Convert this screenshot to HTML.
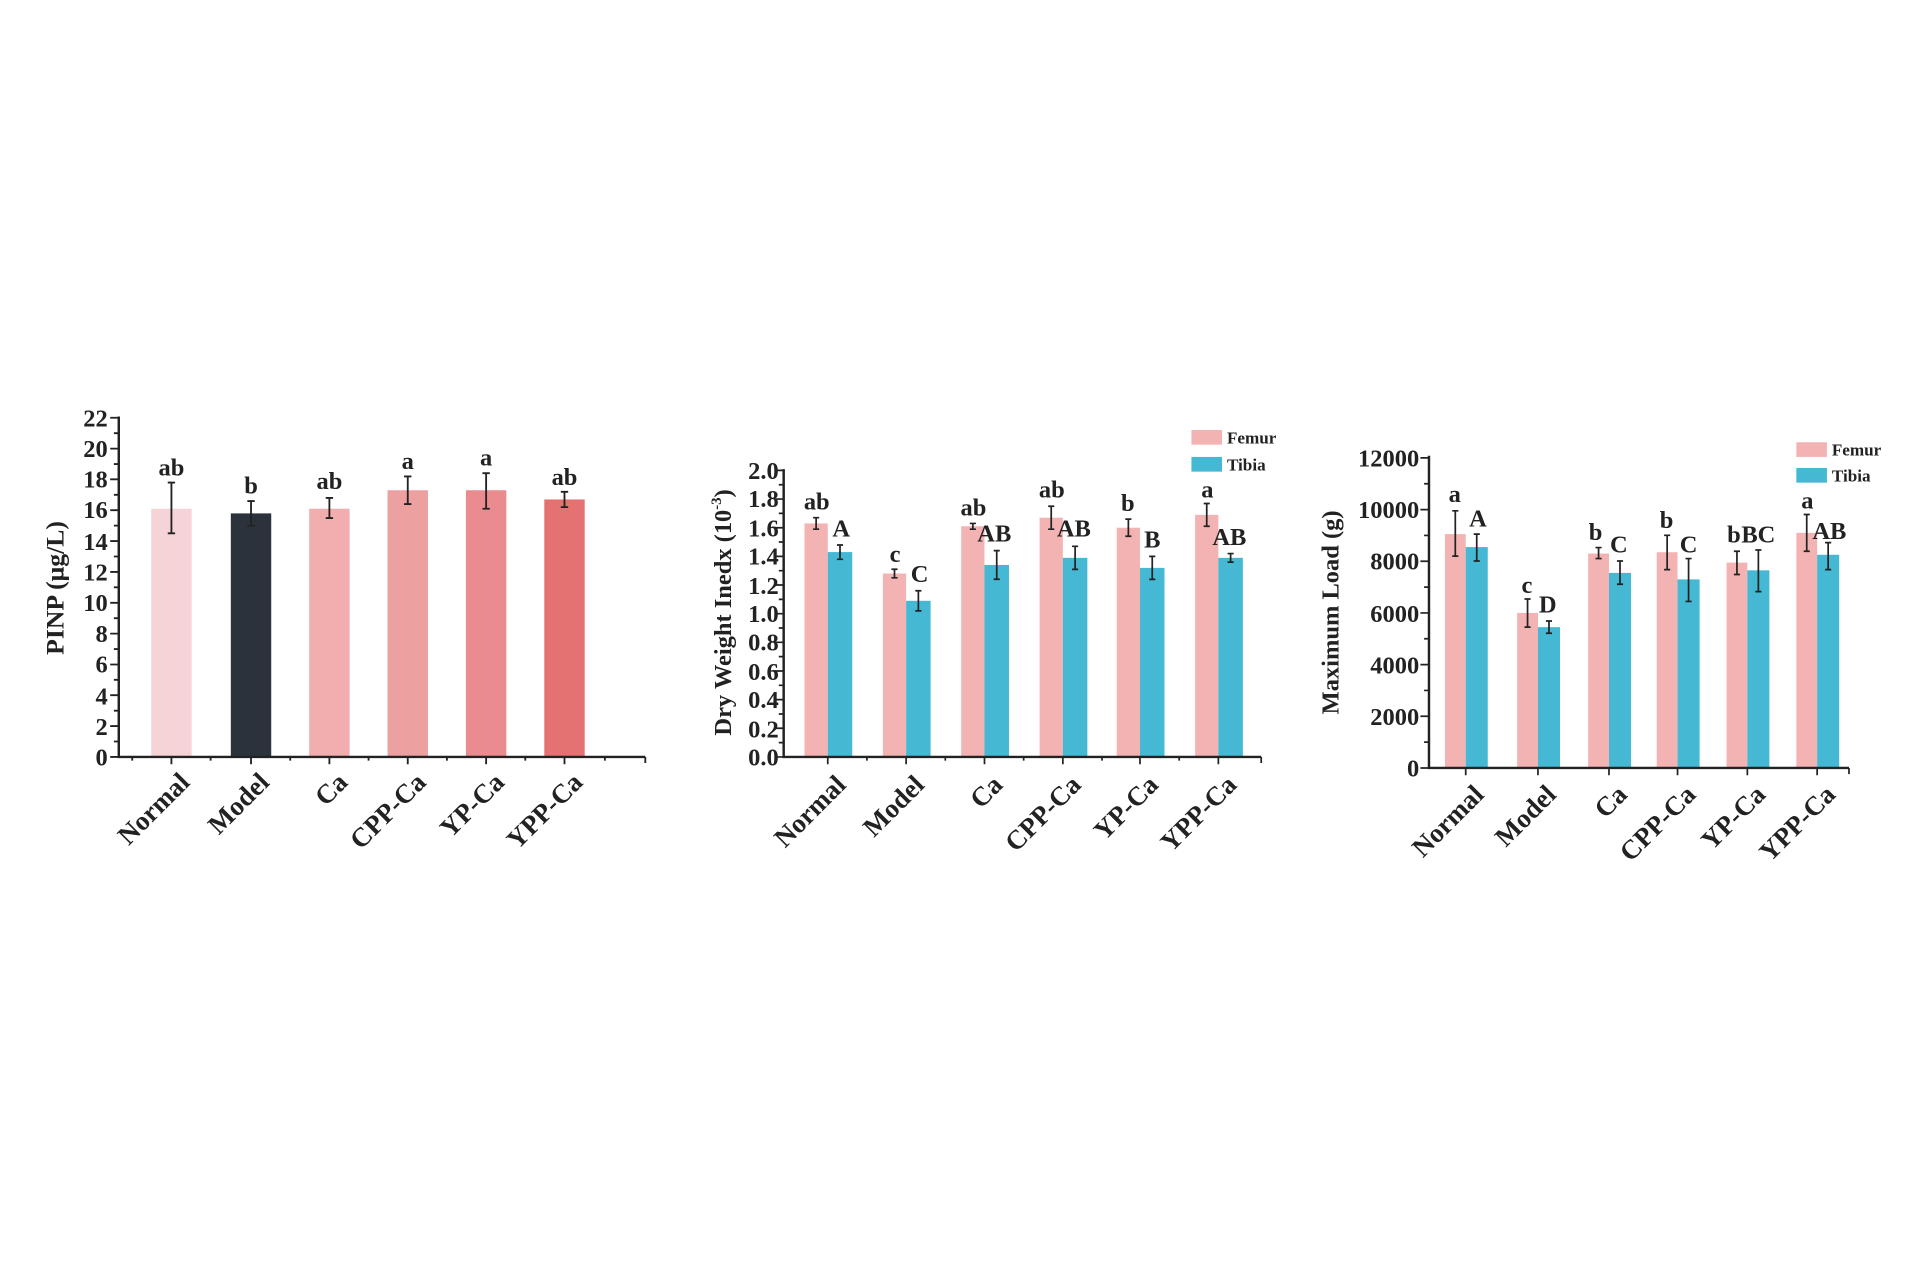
<!DOCTYPE html>
<html><head><meta charset="utf-8"><style>html,body{margin:0;padding:0;background:#fff}svg{display:block}text{font-family:"Liberation Serif",serif;font-weight:bold;fill:#222}</style></head><body>
<svg width="1920" height="1280" viewBox="0 0 1568 1045" xmlns="http://www.w3.org/2000/svg">
<rect width="1568" height="1045" fill="#fff"/>
<!-- Chart 1 -->
<g>
<rect x="123.5" y="415.3" width="33" height="202.7" fill="#f6d3d6"/>
<rect x="188.5" y="419.1" width="33" height="198.9" fill="#2b323c"/>
<rect x="252.5" y="415.3" width="33" height="202.7" fill="#f2aeae"/>
<rect x="316.5" y="400.2" width="33" height="217.8" fill="#eda0a0"/>
<rect x="380.5" y="400.2" width="33" height="217.8" fill="#e98b8f"/>
<rect x="444.5" y="407.7" width="33" height="210.3" fill="#e57272"/>
<g stroke="#222" stroke-width="1.5">
<path d="M140 435.4V393.9M137 435.4h6M137 393.9h6"/>
<path d="M205 429.2V409M202 429.2h6M202 409h6"/>
<path d="M269 422.9V406.5M266 422.9h6M266 406.5h6"/>
<path d="M333 411.5V388.9M330 411.5h6M330 388.9h6"/>
<path d="M397 415.3V386.3M394 415.3h6M394 386.3h6"/>
<path d="M461 414V401.5M458 414h6M458 401.5h6"/>
<path d="M97 340V618H527" fill="none" stroke-width="2"/>
<path d="M90 618h7M90 592.8h7M90 567.6h7M90 542.5h7M90 517.3h7M90 492.1h7M90 466.9h7M90 441.7h7M90 416.5h7M90 391.3h7M90 366.2h7M90 341h7"/>
<path d="M93 605.4h4M93 580.2h4M93 555h4M93 529.9h4M93 504.7h4M93 479.5h4M93 454.3h4M93 429.1h4M93 403.9h4M93 378.8h4M93 353.6h4"/>
<path d="M140 618v6M205 618v6M269 618v6M333 618v6M397 618v6M461 618v6M527 618v5M108 618v3M172 618v3M237 618v3M301 618v3M365 618v3M429 618v3M494 618v3"/>
</g>
<g font-size="20" text-anchor="end">
<text x="88" y="625">0</text><text x="88" y="600">2</text><text x="88" y="575">4</text><text x="88" y="549">6</text><text x="88" y="524">8</text><text x="88" y="499">10</text><text x="88" y="474">12</text><text x="88" y="449">14</text><text x="88" y="423">16</text><text x="88" y="398">18</text><text x="88" y="373">20</text><text x="88" y="348">22</text>
</g>
<g font-size="20" text-anchor="middle">
<text x="140" y="388">ab</text><text x="205" y="403">b</text><text x="269" y="399">ab</text><text x="333" y="383">a</text><text x="397" y="380">a</text><text x="461" y="396">ab</text>
</g>
<text font-size="21" text-anchor="middle" transform="translate(52,480) rotate(-90)">PINP (μg/L)</text>
<g font-size="22" text-anchor="end">
<text transform="translate(156,640) rotate(-45)">Normal</text>
<text transform="translate(221,640) rotate(-45)">Model</text>
<text transform="translate(285,640) rotate(-45)">Ca</text>
<text transform="translate(349,640) rotate(-45)">CPP-Ca</text>
<text transform="translate(413,640) rotate(-45)">YP-Ca</text>
<text transform="translate(477,640) rotate(-45)">YPP-Ca</text>
</g>
</g>
<!-- Chart 2 -->
<g>
<g fill="#f4b3b3">
<rect x="657" y="427.3" width="19" height="190.7"/><rect x="721" y="468.2" width="19" height="149.8"/><rect x="785" y="429.6" width="19" height="188.4"/><rect x="849" y="422.6" width="19" height="195.4"/><rect x="912" y="430.8" width="19" height="187.2"/><rect x="976" y="420.3" width="19" height="197.7"/>
</g>
<g fill="#45b8d4">
<rect x="676" y="450.7" width="20" height="167.3"/><rect x="740" y="490.5" width="20" height="127.5"/><rect x="804" y="461.2" width="20" height="156.8"/><rect x="868" y="455.4" width="20" height="162.6"/><rect x="931" y="463.6" width="20" height="154.4"/><rect x="995" y="455.4" width="20" height="162.6"/>
</g>
<g stroke="#222" stroke-width="1.4">
<path d="M666.5 432V422.6M664 432h5M664 422.6h5"/>
<path d="M730.5 471.7V464.7M728 471.7h5M728 464.7h5"/>
<path d="M794.5 432V427.3M792 432h5M792 427.3h5"/>
<path d="M858.5 432V413.3M856 432h5M856 413.3h5"/>
<path d="M921.5 437.8V423.8M919 437.8h5M919 423.8h5"/>
<path d="M985.5 429.6V411M983 429.6h5M983 411h5"/>
<path d="M686 456.6V444.9M683.5 456.6h5M683.5 444.9h5"/>
<path d="M750 498.7V482.3M747.5 498.7h5M747.5 482.3h5"/>
<path d="M814 472.9V449.5M811.5 472.9h5M811.5 449.5h5"/>
<path d="M878 464.8V446M875.5 464.8h5M875.5 446h5"/>
<path d="M941 473V454.2M938.5 473h5M938.5 454.2h5"/>
<path d="M1005 458.9V451.9M1002.5 458.9h5M1002.5 451.9h5"/>
<path d="M640 383V618H1030" fill="none" stroke-width="2"/>
<path d="M633 618h7M633 594.6h7M633 571.2h7M633 547.8h7M633 524.4h7M633 501h7M633 477.6h7M633 454.2h7M633 430.8h7M633 407.4h7M633 384h7"/>
<path d="M636 606.3h4M636 582.9h4M636 559.5h4M636 536.1h4M636 512.7h4M636 489.3h4M636 465.9h4M636 442.5h4M636 419.1h4M636 395.7h4"/>
<path d="M676 618v6M740 618v6M804 618v6M868 618v6M931 618v6M995 618v6M1030 618v5M708 618v3M772 618v3M836 618v3M900 618v3M963 618v3"/>
</g>
<g font-size="20" text-anchor="end">
<text x="636" y="625">0.0</text><text x="636" y="602">0.2</text><text x="636" y="578">0.4</text><text x="636" y="555">0.6</text><text x="636" y="531">0.8</text><text x="636" y="508">1.0</text><text x="636" y="485">1.2</text><text x="636" y="461">1.4</text><text x="636" y="438">1.6</text><text x="636" y="414">1.8</text><text x="636" y="391">2.0</text>
</g>
<g font-size="20" text-anchor="middle">
<text x="667" y="416">ab</text><text x="731" y="459">c</text><text x="795" y="421">ab</text><text x="859" y="406">ab</text><text x="921" y="417">b</text><text x="986" y="406">a</text>
<text x="687" y="438">A</text><text x="751" y="475">C</text><text x="812" y="442">AB</text><text x="877" y="438">AB</text><text x="941" y="447">B</text><text x="1004" y="445">AB</text>
</g>
<text font-size="20" text-anchor="middle" transform="translate(597,500) rotate(-90)">Dry Weight Inedx (10<tspan font-size="12" dy="-8">-3</tspan><tspan dy="8">)</tspan></text>
<rect x="973" y="351" width="25" height="12" fill="#f4b3b3"/><rect x="973" y="373" width="25" height="12" fill="#45b8d4"/>
<text x="1002" y="362" font-size="14">Femur</text><text x="1002" y="384" font-size="14">Tibia</text>
<g font-size="22" text-anchor="end">
<text transform="translate(692,642) rotate(-45)">Normal</text>
<text transform="translate(756,642) rotate(-45)">Model</text>
<text transform="translate(820,642) rotate(-45)">Ca</text>
<text transform="translate(884,642) rotate(-45)">CPP-Ca</text>
<text transform="translate(947,642) rotate(-45)">YP-Ca</text>
<text transform="translate(1011,642) rotate(-45)">YPP-Ca</text>
</g>
</g>
<!-- Chart 3 -->
<g>
<g fill="#f4b3b3">
<rect x="1180" y="436" width="17" height="191"/><rect x="1239" y="500.4" width="17" height="126.6"/><rect x="1297" y="451.9" width="17" height="175.1"/><rect x="1353" y="450.8" width="17" height="176.2"/><rect x="1410" y="459.3" width="17" height="167.7"/><rect x="1467" y="435" width="17" height="192"/>
</g>
<g fill="#45b8d4">
<rect x="1197" y="446.6" width="18" height="180.4"/><rect x="1256" y="512" width="18" height="115"/><rect x="1314" y="467.7" width="18" height="159.3"/><rect x="1370" y="473" width="18" height="154"/><rect x="1427" y="465.6" width="18" height="161.4"/><rect x="1484" y="452.9" width="18" height="174.1"/>
</g>
<g stroke="#222" stroke-width="1.4">
<path d="M1188.5 454V417M1186 454h5M1186 417h5"/>
<path d="M1247.5 512V489M1245 512h5M1245 489h5"/>
<path d="M1305.5 456V447M1303 456h5M1303 447h5"/>
<path d="M1361.5 465V437M1359 465h5M1359 437h5"/>
<path d="M1418.5 469V450M1416 469h5M1416 450h5"/>
<path d="M1475.5 450V420M1473 450h5M1473 420h5"/>
<path d="M1206 458V436M1203.5 458h5M1203.5 436h5"/>
<path d="M1265 517V507M1262.5 517h5M1262.5 507h5"/>
<path d="M1323 477V458M1320.5 477h5M1320.5 458h5"/>
<path d="M1379 491V456M1376.5 491h5M1376.5 456h5"/>
<path d="M1436 483V449M1433.5 483h5M1433.5 449h5"/>
<path d="M1493 465V443M1490.5 465h5M1490.5 443h5"/>
<path d="M1167 372V627H1510" fill="none" stroke-width="2"/>
<path d="M1160 627h7M1160 584.8h7M1160 542.6h7M1160 500.4h7M1160 458.2h7M1160 416h7M1160 373.8h7"/>
<path d="M1163 605.9h4M1163 563.7h4M1163 521.5h4M1163 479.3h4M1163 437.1h4M1163 394.9h4"/>
<path d="M1197 627v6M1256 627v6M1314 627v6M1370 627v6M1427 627v6M1484 627v6M1510 627v5"/>
</g>
<g font-size="20" text-anchor="end">
<text x="1159" y="634">0</text><text x="1159" y="592">2000</text><text x="1159" y="550">4000</text><text x="1159" y="508">6000</text><text x="1159" y="465">8000</text><text x="1159" y="423">10000</text><text x="1159" y="381">12000</text>
</g>
<g font-size="20" text-anchor="middle">
<text x="1188" y="410">a</text><text x="1247" y="484">c</text><text x="1303" y="441">b</text><text x="1361" y="431">b</text><text x="1416" y="443">b</text><text x="1476" y="415">a</text>
<text x="1207" y="430">A</text><text x="1264" y="500">D</text><text x="1322" y="451">C</text><text x="1379" y="451">C</text><text x="1436" y="443">BC</text><text x="1494" y="440">AB</text>
</g>
<text font-size="20" text-anchor="middle" transform="translate(1093,500) rotate(-90)">Maximum Load (g)</text>
<rect x="1467" y="361" width="25" height="12" fill="#f4b3b3"/><rect x="1467" y="382" width="25" height="12" fill="#45b8d4"/>
<text x="1496" y="372" font-size="14">Femur</text><text x="1496" y="393" font-size="14">Tibia</text>
<g font-size="22" text-anchor="end">
<text transform="translate(1213,650) rotate(-45)">Normal</text>
<text transform="translate(1272,650) rotate(-45)">Model</text>
<text transform="translate(1330,650) rotate(-45)">Ca</text>
<text transform="translate(1386,650) rotate(-45)">CPP-Ca</text>
<text transform="translate(1443,650) rotate(-45)">YP-Ca</text>
<text transform="translate(1500,650) rotate(-45)">YPP-Ca</text>
</g>
</g>
</svg>
</body></html>
